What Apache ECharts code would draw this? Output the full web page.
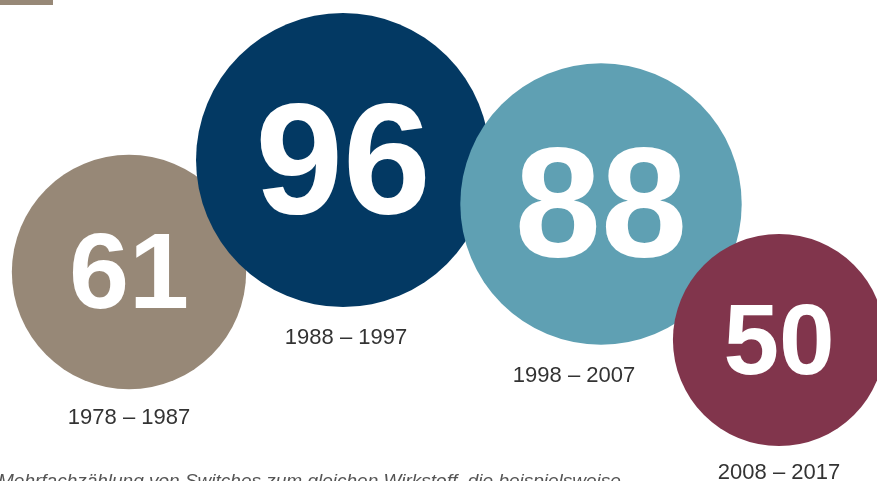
<!DOCTYPE html>
<html>
<head>
<meta charset="utf-8">
<script src="https://cdn.jsdelivr.net/npm/echarts@6/dist/echarts.min.js"></script>
<style>
  html, body { margin: 0; padding: 0; background: #fff; }
  #chart { width: 877px; height: 481px; }
</style>
</head>
<body>
<div id="chart"></div>
<script>
// Switches je Jahrzehnt
const periods = ['1978 – 1987', '1988 – 1997', '1998 – 2007', '2008 – 2017']
const counts = [61, 96, 88, 50]

// Lage der Kreise (in Achseneinheiten, 1 Einheit = 1 px)
const posX = [129, 343, 601, 779]
const posY = [272, 160, 204, 340]

const colors = ['#978877', '#033963', '#5fa0b3', '#81354c']
const numberFontSizes = [108, 158, 155, 100]
const periodOffsets = [[0, 2], [3, 4], [-27, 4], [0, 0]]

// Fläche proportional zum Wert
const bubbleSize = (val) => 30 * Math.sqrt(val[2])

const bubbleData = counts.map((c, i) => ({
  value: [posX[i], posY[i], c],
  itemStyle: { color: colors[i] },
  label: {
    fontSize: numberFontSizes[i],
    offset: [0, Math.round(numberFontSizes[i] * 0.06)],
  },
}))

const periodData = counts.map((c, i) => ({
  value: [posX[i], posY[i], c],
  label: { offset: periodOffsets[i] },
}))

const chart = echarts.init(document.getElementById('chart'), null, { renderer: 'canvas' })

chart.setOption({
  animation: false,
  backgroundColor: '#ffffff',
  grid: { left: 0, right: 0, top: 0, bottom: 0 },
  xAxis: { type: 'value', min: 0, max: 877, show: false },
  yAxis: { type: 'value', min: 0, max: 481, inverse: true, show: false },
  series: [
    {
      type: 'scatter',
      data: bubbleData,
      symbolSize: bubbleSize,
      clip: false,
      itemStyle: { opacity: 1 },
      emphasis: { disabled: true },
      label: {
        show: true,
        position: 'inside',
        formatter: (p) => p.value[2],
        color: '#ffffff',
        opacity: 1,
        fontFamily: 'Liberation Sans, Arial, sans-serif',
        fontWeight: 'bold',
      },
    },
    {
      type: 'scatter',
      data: periodData,
      symbolSize: bubbleSize,
      clip: false,
      silent: true,
      itemStyle: { color: 'rgba(0,0,0,0)', opacity: 1 },
      emphasis: { disabled: true },
      label: {
        show: true,
        position: 'bottom',
        distance: 16,
        formatter: (p) => periods[p.dataIndex],
        color: '#333333',
        opacity: 1,
        fontSize: 22,
        fontFamily: 'Liberation Sans, Arial, sans-serif',
      },
    },
  ],
  graphic: [
    {
      type: 'rect',
      left: 0,
      top: 0,
      shape: { width: 53, height: 5 },
      style: { fill: '#978877' },
    },
    {
      type: 'text',
      left: -2,
      top: 472,
      style: {
        text: 'Mehrfachzählung von Switches zum gleichen Wirkstoff, die beispielsweise',
        font: 'italic 19px "Liberation Sans", Arial, sans-serif',
        fill: '#555555',
      },
    },
  ],
})
</script>
</body>
</html>
